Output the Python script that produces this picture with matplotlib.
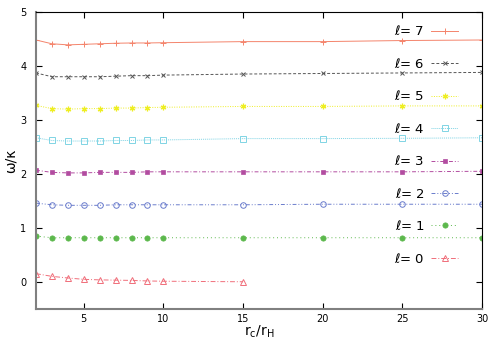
import matplotlib
matplotlib.use("Agg")
import matplotlib.pyplot as plt

x_full = [2, 3, 4, 5, 6, 7, 8, 9, 10, 15, 20, 25, 30]
x_l0 = [2, 3, 4, 5, 6, 7, 8, 9, 10, 15]

l7 = [4.48, 4.41, 4.39, 4.40, 4.41, 4.42, 4.425, 4.425, 4.43, 4.45, 4.45, 4.47, 4.48]
l6 = [3.87, 3.80, 3.80, 3.80, 3.80, 3.81, 3.82, 3.82, 3.83, 3.85, 3.86, 3.87, 3.88]
l5 = [3.27, 3.21, 3.20, 3.21, 3.21, 3.22, 3.22, 3.23, 3.235, 3.25, 3.25, 3.26, 3.26]
l4 = [2.67, 2.62, 2.61, 2.61, 2.61, 2.62, 2.62, 2.63, 2.63, 2.655, 2.655, 2.66, 2.67]
l3 = [2.07, 2.03, 2.02, 2.02, 2.03, 2.03, 2.03, 2.04, 2.04, 2.04, 2.04, 2.04, 2.05]
l2 = [1.46, 1.43, 1.42, 1.42, 1.42, 1.43, 1.43, 1.43, 1.43, 1.43, 1.44, 1.44, 1.44]
l1 = [0.85, 0.82, 0.82, 0.82, 0.82, 0.82, 0.82, 0.82, 0.82, 0.82, 0.82, 0.82, 0.82]
l0 = [0.155, 0.105, 0.075, 0.05, 0.04, 0.035, 0.03, 0.02, 0.015, 0.005]

labels = [r"$\ell$= 7", r"$\ell$= 6", r"$\ell$= 5", r"$\ell$= 4",
          r"$\ell$= 3", r"$\ell$= 2", r"$\ell$= 1", r"$\ell$= 0"]
xticks = [5, 10, 15, 20, 25, 30]
yticks = [0, 1, 2, 3, 4, 5]

fig = plt.figure(figsize=(5, 3.5), dpi=100)
ax = fig.add_axes([0.072, 0.117, 0.892, 0.849])

series = [
    (x_full, l7, "#f4846c", "-", "+", dict(ms=4.5, mew=0.7)),
    (x_full, l6, "#555555", (0, (3, 2)), "x", dict(ms=3.5, mew=0.7)),
    (x_full, l5, "#eeee22", (0, (1, 1.5)), (6, 2, 0), dict(ms=4, mew=0.9)),
    (x_full, l4, "#80d4e4", (0, (1, 1)), "s", dict(ms=4, mfc="none", mew=0.7)),
    (x_full, l3, "#b24ca0", (0, (4, 2, 1, 2)), "s", dict(ms=3.5, mew=0.5)),
    (x_full, l2, "#6a7ccc", (0, (4, 2, 1, 2, 1, 2)), "o", dict(ms=4, mfc="none", mew=0.7)),
    (x_full, l1, "#5cb84c", (0, (1, 3)), "o", dict(ms=3.8, mew=0.5)),
    (x_l0, l0, "#f06e7a", (0, (5, 2, 1, 2)), "^", dict(ms=4, mfc="none", mew=0.7)),
]
for (xs, ys, c, ls, m, kw), lab in zip(series, labels):
    ax.plot(xs, ys, color=c, ls=ls, lw=0.7, marker=m, label=lab, **kw)

ax.set_xlim(2, 30)
ax.set_ylim(-0.5, 5)
ax.set_xticks(xticks)
ax.set_yticks(yticks)
ax.tick_params(direction="in", top=True, right=True, labelsize=7, length=4, width=0.8)
ax.tick_params(axis="x", pad=3.5)
ax.tick_params(axis="y", pad=7)
for s in ["left", "bottom"]:
    ax.spines[s].set_color("#808080")
    ax.spines[s].set_linewidth(1.5)
for s in ["top", "right"]:
    ax.spines[s].set_color("black")
    ax.spines[s].set_linewidth(0.8)

ax.set_xlabel(r"r$_\mathregular{c}$/r$_\mathregular{H}$", fontsize=10, labelpad=0)
ax.set_ylabel("ω/κ", fontsize=10, labelpad=2)

ax.legend(loc="upper right", frameon=False, markerfirst=False, fontsize=9.5,
          handlelength=2.1, handletextpad=0.45, labelspacing=1.4,
          borderaxespad=0.2, bbox_to_anchor=(0.965, 0.985))

fig.savefig("out.png", dpi=100)
